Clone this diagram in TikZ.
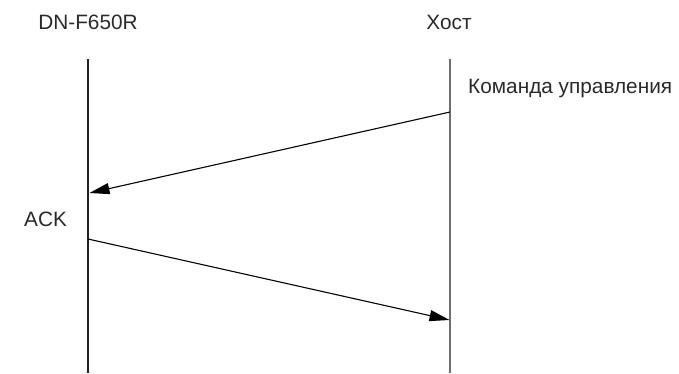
\documentclass[tikz,border=0pt]{standalone}
\usepackage{fontspec}
\setmainfont{Liberation Sans}
\usetikzlibrary{arrows.meta}
\definecolor{txt}{HTML}{2A2A2A}
\definecolor{lifeL}{HTML}{222222}
\definecolor{lifeR}{HTML}{6E6E6E}
\begin{document}
\begin{tikzpicture}[x=1pt,y=-1pt,
  lbl/.style={font=\fontsize{20.8}{23}\selectfont, text=txt, inner sep=0pt},
  msg/.style={draw=black, line width=1.1pt, -{Triangle[length=20pt,width=11pt]}}]
\useasboundingbox (0,0) rectangle (679,373);
% lifelines
\coordinate (Ltop) at (88,59);
\coordinate (Lbot) at (88,373);
\coordinate (Rtop) at (450,59);
\coordinate (Rbot) at (450,373);
\draw[lifeL, line width=1.1pt] (Ltop) -- (Lbot);
\draw[lifeR, line width=1.3pt] (Rtop) -- (Rbot);
% headers
\node[lbl] (dn) at (88,22) {DN-F650R};
\node[lbl] (host) at (449,22) {Хост};
\node[lbl, anchor=west] (cmd) at (468,88) {Команда управления};
\node[lbl, anchor=west] (ack) at (24,219) {ACK};
% messages
\coordinate (m1s) at (450,112);
\coordinate (m1e) at (89.5,193);
\coordinate (m2s) at (88,239);
\coordinate (m2e) at (449.5,320);
\draw[msg] (m1s) -- (m1e);
\draw[msg] (m2s) -- (m2e);
\end{tikzpicture}
\end{document}
